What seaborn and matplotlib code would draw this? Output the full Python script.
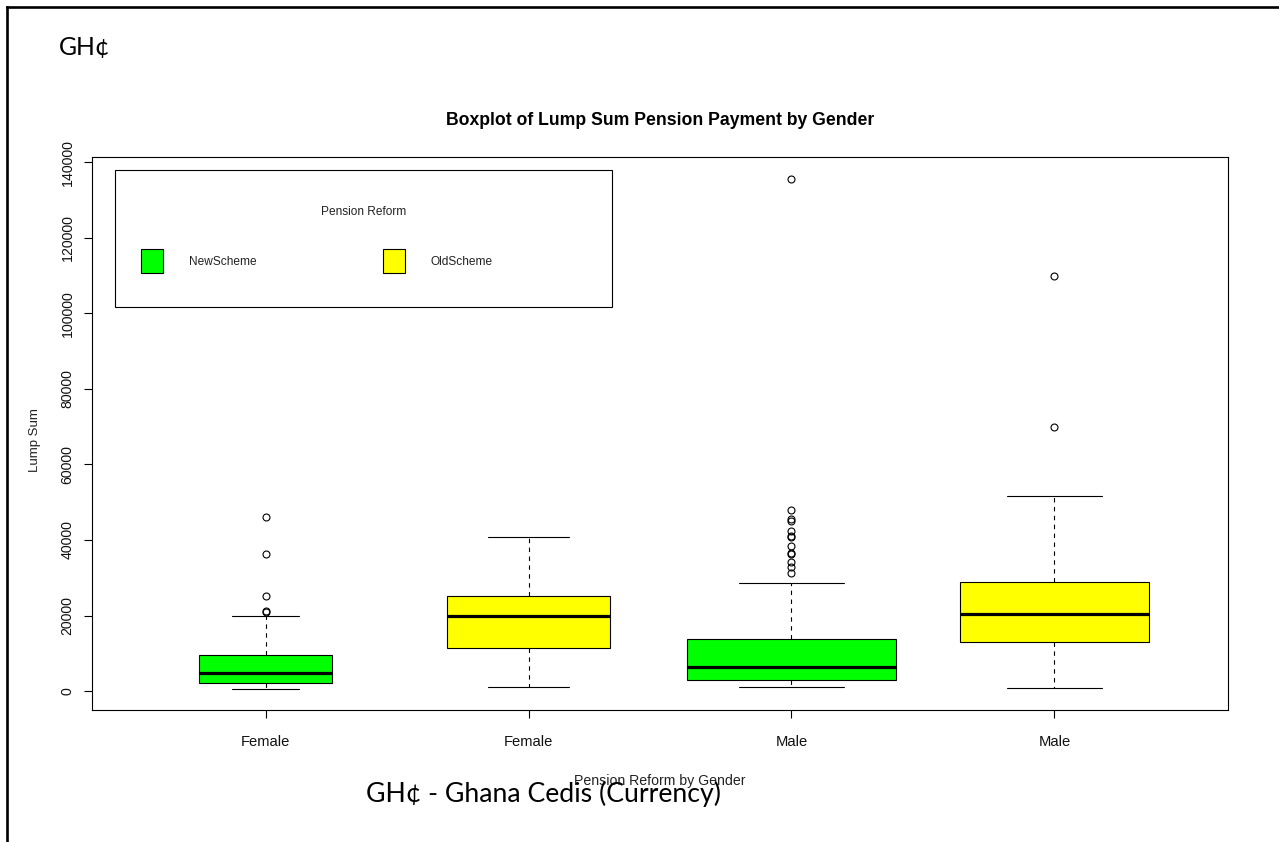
import numpy as np
import pandas as pd
import matplotlib
matplotlib.use("Agg")
import matplotlib.pyplot as plt
from matplotlib.patches import Patch, Rectangle
from matplotlib.lines import Line2D
import seaborn as sns

# Lump sum pension payments (GH¢) by gender and pension scheme
groups = ["Female-New", "Female-Old", "Male-New", "Male-Old"]
tick_labels = ["Female", "Female", "Male", "Male"]
schemes = ["NewScheme", "OldScheme", "NewScheme", "OldScheme"]
legend_labels = ["NewScheme", "OldScheme"]

lower_whisker = [500, 1200, 1000, 700]
q1 = [2100, 11500, 2900, 12900]
median = [4700, 19800, 6300, 20300]
q3 = [9600, 25200, 13700, 28900]
upper_whisker = [19800, 40900, 28600, 51600]
outliers = [
    [20900, 21100, 25100, 36400, 46000],
    [],
    [31300, 32800, 34300, 36300, 36600, 38300, 40700, 41100, 42500,
     45100, 45500, 48000, 135500],
    [70000, 110000],
]

y_ticks = [0, 20000, 40000, 60000, 80000, 100000, 120000, 140000]


def sample_values(lo, a, mid, b, hi, extra):
    """Sample whose quartiles, whisker ends and outliers equal the summary."""
    m = len(extra) + 1
    return [lo] + [a] * m + [mid] * m + [b] * m + [hi] + sorted(extra)


rows = []
for i, g in enumerate(groups):
    vals = sample_values(lower_whisker[i], q1[i], median[i], q3[i],
                         upper_whisker[i], outliers[i])
    rows += [(g, schemes[i], v) for v in vals]
df = pd.DataFrame(rows, columns=["group", "scheme", "lump_sum"])

# ---- styling --------------------------------------------------------------
sns.set_theme(style="ticks")
plt.rcParams["font.family"] = ["Liberation Sans", "DejaVu Sans"]
caption_font = ["Lato", "DejaVu Sans"]

scheme_colors = {"NewScheme": "#00FF00", "OldScheme": "#FFFF00"}
box_widths = [0.506, 0.619, 0.798, 0.716]   # proportional to sqrt(group size)

W, H = 1279, 842
fig = plt.figure(figsize=(W / 100, H / 100), dpi=100)
fig.patch.set_facecolor("white")

# plot region
L, R, T, B = 92, 1228, 157, 710
ax = fig.add_axes([L / W, 1 - B / H, (R - L) / W, (B - T) / H])

for i, g in enumerate(groups):
    sns.boxplot(
        data=df[df["group"] == g], x="group", y="lump_sum", order=groups,
        color=scheme_colors[schemes[i]], saturation=1, width=box_widths[i],
        linecolor="black", linewidth=0.8, whis=1.5,
        whiskerprops=dict(linestyle=(0, (4, 4))),
        medianprops=dict(linewidth=2.3, color="black"),
        flierprops=dict(marker="o", markersize=5, markerfacecolor="none",
                        markeredgecolor="black", markeredgewidth=0.8),
        ax=ax,
    )

ax.set_xlim(-0.66, 3.66)
ax.set_ylim(-5000, 141400)
ax.set_xticks(range(len(groups)), labels=tick_labels, fontsize=10.6)
ax.set_yticks(y_ticks, labels=[str(v) for v in y_ticks], fontsize=10.2,
              rotation=90, va="center")
ax.tick_params(axis="both", direction="out", length=6, width=0.8,
               color="black", labelcolor="#111111")
ax.tick_params(axis="x", pad=11.9)
ax.tick_params(axis="y", pad=6.5)
for sp in ax.spines.values():
    sp.set_visible(True)
    sp.set_color("black")
    sp.set_linewidth(0.8)
ax.grid(False)

ax.set_title("Boxplot of Lump Sum Pension Payment by Gender",
             fontsize=12.7, fontweight="bold", pad=23.3, color="black")
ax.set_xlabel("Pension Reform by Gender", fontsize=10.2, color="#222222")
ax.set_ylabel("Lump Sum", fontsize=9.5, color="#222222")
ax.xaxis.set_label_coords(0.5, (B - 774) / (B - T))
ax.yaxis.set_label_coords((41.5 - L) / (R - L), (B - 440) / (B - T))

# ---- legend ---------------------------------------------------------------
def ax_x(px):
    return (px - L) / (R - L)


def ax_y(py):
    return (B - py) / (B - T)


leg_fs = 8.6
leg_px = leg_fs * 100 / 72
handles = [Patch(facecolor=scheme_colors[s], edgecolor="black",
                 linewidth=0.8, label=s) for s in legend_labels]
leg = ax.legend(
    handles=handles, ncol=2, frameon=False, loc="center left",
    bbox_to_anchor=(ax_x(141.2), ax_y(261.0)),
    borderpad=0, borderaxespad=0, fontsize=leg_fs,
    handlelength=22 / leg_px, handleheight=2.6,
    handletextpad=25.7 / leg_px, columnspacing=126.4 / leg_px,
)
for t in leg.get_texts():
    t.set_color("#222222")
ax.add_patch(Rectangle((ax_x(115), ax_y(306.7)), ax_x(612) - ax_x(115),
                       ax_y(170) - ax_y(306.7), transform=ax.transAxes,
                       fill=False, edgecolor="black", linewidth=0.8,
                       zorder=5))
ax.text(ax_x(363.7), ax_y(212.3), "Pension Reform", ha="center",
        va="center", fontsize=leg_fs, color="#222222",
        transform=ax.transAxes)

# ---- page frame and captions ---------------------------------------------
fig.add_artist(Line2D([7.3 / W, 7.3 / W], [0, 1 - 7.2 / H], color="black",
                      lw=1.9, solid_capstyle="projecting",
                      transform=fig.transFigure))
fig.add_artist(Line2D([7.3 / W, 1], [1 - 7.2 / H, 1 - 7.2 / H],
                      color="black", lw=1.9, solid_capstyle="projecting",
                      transform=fig.transFigure))

fig.text(59 / W, 1 - 47 / H, "GH¢", ha="left", va="center",
         fontsize=17.8, family=caption_font, color="black")
fig.text(543.5 / W, 1 - 794 / H, "GH¢ - Ghana Cedis (Currency)",
         ha="center", va="center", fontsize=19.2, family=caption_font,
         color="black")

fig.savefig("out.png", dpi=100)
